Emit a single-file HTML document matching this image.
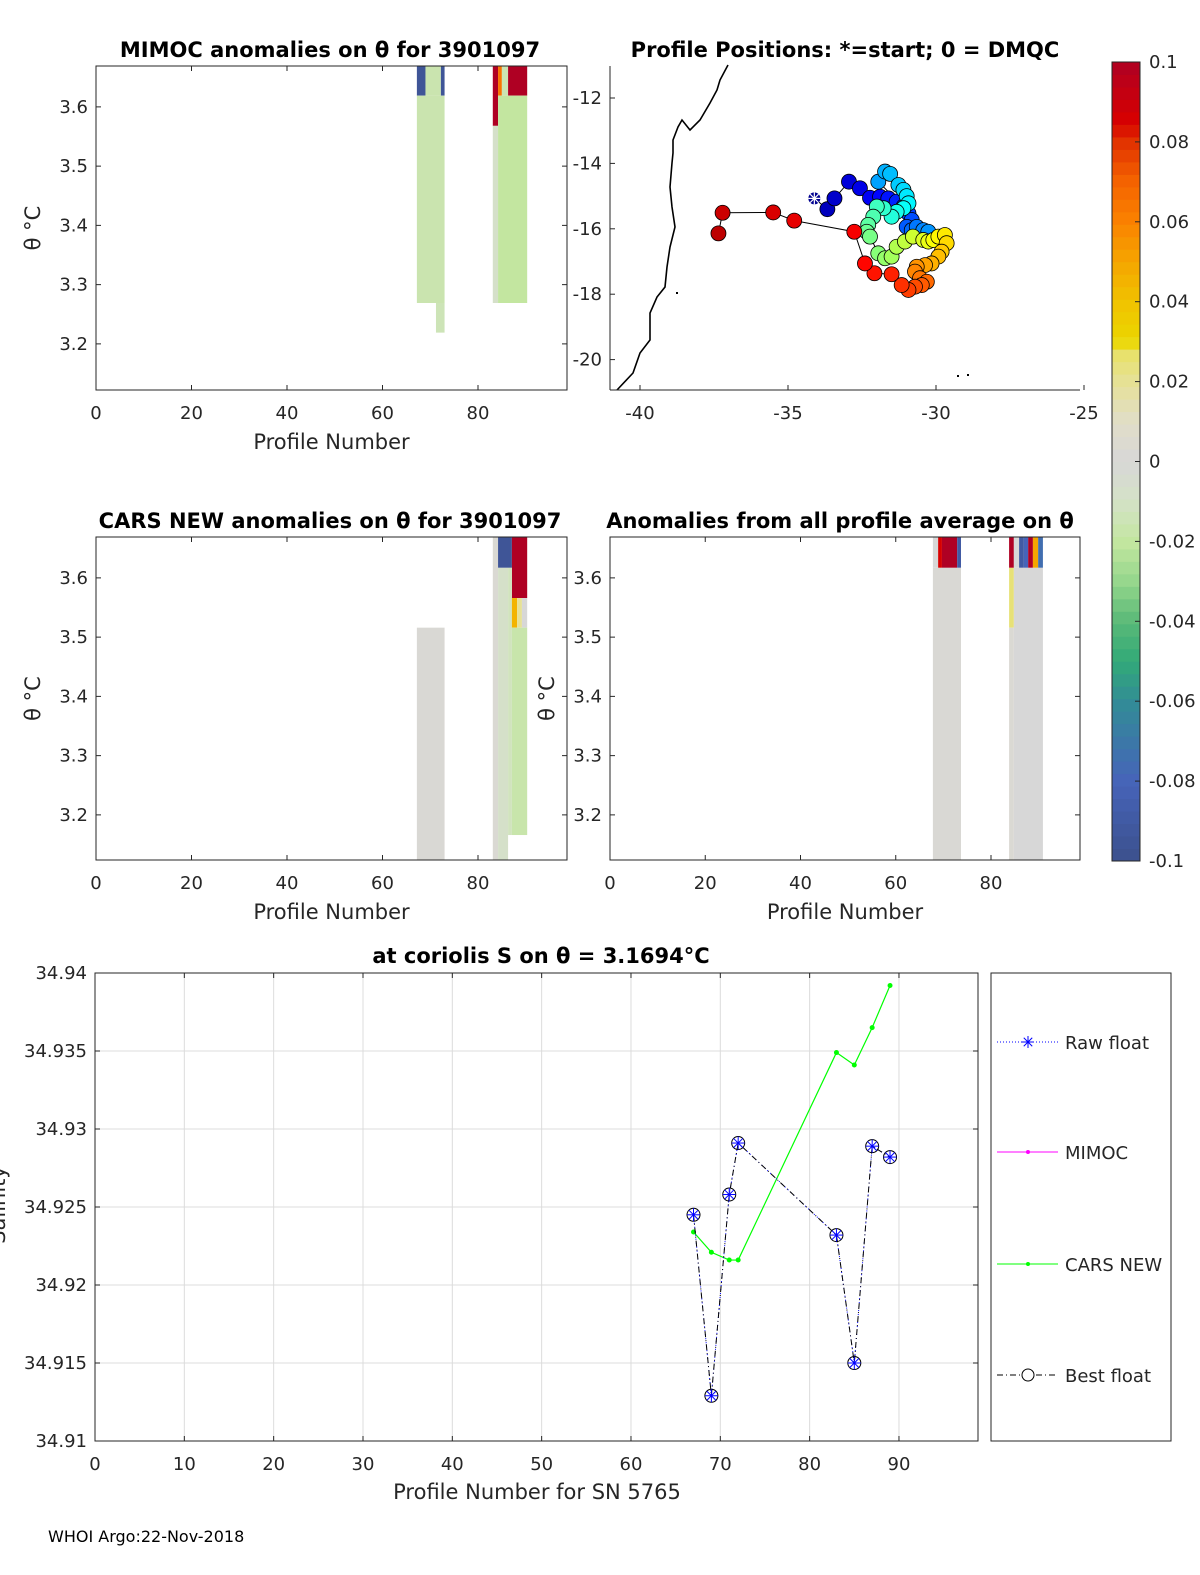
<!DOCTYPE html>
<html><head><meta charset="utf-8"><style>
html,body{margin:0;padding:0;background:#fff;}
svg{display:block;font-family:"DejaVu Sans","Liberation Sans",sans-serif;}
.t{font-size:18px;fill:#262626}
.ttl{font-size:21px;font-weight:bold;fill:#000}
.lab{font-size:21px;fill:#262626}
</style></head><body>
<svg id="fig" width="1200" height="1575" viewBox="0 0 1200 1575" xmlns="http://www.w3.org/2000/svg">
<g id="g1"></g>
<g id="g2"></g>
<g id="g3"></g>
<g id="g4"></g>
<g id="gcb"></g>
<g id="g5"></g>
<text x="48" y="1542" font-size="16" fill="#000">WHOI Argo:22-Nov-2018</text>
</svg>
<script>
// ---------- data ----------
const cellPanel=[0,0,0,0,0, 0,0,0,0,0,0,
  1,1,1,1,1,1,1,1,1,1,
  2,2,2,2,2, 2,2,2,2,2,2,2,2,2,2];
const cellP0=[67.2,72.2,69,67.2,71.2, 83.1,84.2,85,86.3,83.1,84.2,
  67.2,83.1,84.2,87.1,84.2,86.3,87.1,88.2,89.2,87.1,
  67.8,68.9,69.7,72.9,67.8, 83.8,84.8,85.9,86.9,87.8,88.8,89.9,83.8,84.8,83.8];
const cellP1=[69,73,72.2,73,73, 84.2,85,86.3,90.3,84.2,90.3,
  73,84.2,87.1,90.3,86.3,87.1,88.2,89.2,90.3,90.3,
  68.9,69.7,72.9,73.7,73.7, 84.8,85.9,86.9,87.8,88.8,89.9,90.9,84.8,90.9,84.8];
const cellT0=[3.669,3.669,3.669,3.619,3.269, 3.669,3.669,3.669,3.669,3.568,3.619,
  3.516,3.669,3.669,3.669,3.617,3.617,3.566,3.566,3.566,3.516,
  3.669,3.669,3.669,3.669,3.617, 3.669,3.669,3.669,3.669,3.669,3.669,3.669,3.617,3.617,3.516];
const cellT1=[3.619,3.619,3.619,3.269,3.219, 3.568,3.619,3.619,3.619,3.269,3.269,
  3.124,3.124,3.617,3.566,3.124,3.166,3.516,3.516,3.516,3.166,
  3.617,3.617,3.617,3.617,3.124, 3.617,3.617,3.617,3.617,3.617,3.617,3.617,3.516,3.124,3.124];
const cellV=[-0.095,-0.095,-0.016,-0.016,-0.014, 0.1,0.065,-0.015,0.1,-0.008,-0.02,
  0.002,0.003,-0.095,0.1,-0.008,-0.012,0.045,0.02,0.0,-0.017,
  0.0,0.085,0.1,-0.09,0.002, 0.1,0.0,-0.09,-0.08,0.1,0.05,-0.075,0.025,0.0,0.003];
const thetaTicks=[3.2,3.3,3.4,3.5,3.6];
const profTicks=[0,20,40,60,80];
const lon=[-34.11,-33.67,-33.43,-32.94,-32.57,-32.23,-31.89,-31.61,-31.33,-31.10,-30.93,-30.82,-30.99,-30.82,-30.65,-30.43,-30.26,
 -31.95,-31.72,-31.55,-31.27,-31.10,-30.99,-30.93,-31.10,-31.33,-31.50,
 -31.77,-32.0,-32.12,-32.29,-32.34,-32.23,
 -31.95,-31.72,-31.50,-31.33,-31.05,-30.78,
 -30.43,-30.26,-30.09,-29.92,-29.70,-29.64,-29.81,-29.92,
 -30.15,-30.37,-30.65,-30.71,
 -30.54,-30.31,-30.48,-30.71,-30.93,-31.16,
 -31.50,-32.08,-32.40,-32.76,-34.79,-35.50,-37.21,-37.35];
const lat=[-15.07,-15.40,-15.07,-14.56,-14.76,-15.05,-15.02,-15.07,-15.17,-15.32,-15.53,-15.73,-15.94,-16.04,-15.94,-16.04,-16.09,
 -14.56,-14.25,-14.32,-14.66,-14.81,-15.0,-15.22,-15.37,-15.48,-15.63,
 -15.37,-15.32,-15.63,-15.88,-16.09,-16.24,
 -16.75,-16.90,-16.85,-16.55,-16.39,-16.24,
 -16.34,-16.39,-16.34,-16.24,-16.19,-16.44,-16.70,-16.85,
 -17.06,-17.11,-17.16,-17.31,
 -17.51,-17.62,-17.72,-17.77,-17.87,-17.72,
 -17.39,-17.36,-17.06,-16.09,-15.75,-15.50,-15.51,-16.14];
const lonTicks=[-40,-35,-30,-25];
const latTicks=[-12,-14,-16,-18,-20];
const profNum=[67,69,71,72,83,85,87,89];
const floatSal=[34.9245,34.9129,34.9258,34.9291,34.9232,34.9150,34.9289,34.9282];
const carsSal=[34.9234,34.9221,34.9216,34.9216,34.9349,34.9341,34.9365,34.9392];
const salTicks=[34.91,34.915,34.92,34.925,34.93,34.935,34.94];
const salXTicks=[0,10,20,30,40,50,60,70,80,90];
const cbTicks=[-0.1,-0.08,-0.06,-0.04,-0.02,0,0.02,0.04,0.06,0.08,0.1];
const cbLabels=['-0.1','-0.08','-0.06','-0.04','-0.02','0','0.02','0.04','0.06','0.08','0.1'];

// ---------- helpers ----------
const NS='http://www.w3.org/2000/svg';
function mk(parent,tag,attrs,text){const e=document.createElementNS(NS,tag);for(const k in attrs)e.setAttribute(k,attrs[k]);if(text!==undefined)e.textContent=text;parent.appendChild(e);return e;}
const cmS=[[-0.1,60,80,140],[-0.08,70,100,185],[-0.06,50,140,150],[-0.05,50,170,120],[-0.04,90,185,120],[-0.03,150,215,140],[-0.02,195,230,160],[-0.01,212,226,198],[0,215,215,215],[0.01,225,222,200],[0.02,230,225,150],[0.028,232,225,100],[0.03,235,215,0],[0.04,240,195,0],[0.05,245,165,0],[0.06,250,130,0],[0.07,245,100,0],[0.08,225,50,0],[0.085,215,0,0],[0.1,175,0,35]];
function cmap(v){v=Math.max(-0.1,Math.min(0.1,v));for(let i=0;i<cmS.length-1;i++){const a=cmS[i],b=cmS[i+1];if(v<=b[0]){const f=(v-a[0])/(b[0]-a[0]);return 'rgb('+[1,2,3].map(j=>Math.round(a[j]+f*(b[j]-a[j]))).join(',')+')';}}return 'rgb(175,0,35)';}
function jet(t){const r=Math.max(0,Math.min(1,1.5-Math.abs(4*t-3))),g=Math.max(0,Math.min(1,1.5-Math.abs(4*t-2))),b=Math.max(0,Math.min(1,1.5-Math.abs(4*t-1)));return 'rgb('+[r,g,b].map(c=>Math.round(c*255)).join(',')+')';}

// ---------- anomaly panels ----------
const panels=[
 {g:'g1',x0:96,x1:567,y0:66,y1:390,pxPer:4.775,title:'MIMOC anomalies on \u03B8  for 3901097',tx:330},
 {g:'g3',x0:96,x1:567,y0:537,y1:860,pxPer:4.775,title:'CARS NEW anomalies on \u03B8 for 3901097',tx:330},
 {g:'g4',x0:610,x1:1080,y0:537,y1:860,pxPer:4.7625,title:'Anomalies from all profile average on \u03B8',tx:840}
];
panels.forEach((P,pi)=>{
 const g=document.getElementById(P.g);
 const xs=p=>P.x0+p*P.pxPer;
 const ys=t=>P.y0+(3.669-t)*592.5;
 for(let i=0;i<cellV.length;i++){ if(cellPanel[i]!==pi)continue;
  const r=mk(g,'rect',{x:xs(cellP0[i]),y:ys(cellT0[i]),width:xs(cellP1[i])-xs(cellP0[i]),height:ys(cellT1[i])-ys(cellT0[i]),fill:cmap(cellV[i])});
  
  
 }
 const ax=mk(g,'rect',{x:P.x0,y:P.y0,width:P.x1-P.x0,height:P.y1-P.y0,fill:'none',stroke:'#262626','stroke-width':1});
 
 thetaTicks.forEach(t=>{const y=ys(t);if(y<P.y0||y>P.y1)return;
  mk(g,'line',{x1:P.x0,x2:P.x0+5,y1:y,y2:y,stroke:'#262626'});mk(g,'line',{x1:P.x1,x2:P.x1-5,y1:y,y2:y,stroke:'#262626'});
  const tl=mk(g,'text',{x:P.x0-8,y:y+6,'text-anchor':'end',class:'t'},t.toFixed(1));
  });
 profTicks.forEach(p=>{const x=xs(p);
  mk(g,'line',{x1:x,x2:x,y1:P.y1,y2:P.y1-5,stroke:'#262626'});mk(g,'line',{x1:x,x2:x,y1:P.y0,y2:P.y0+5,stroke:'#262626'});
  const tl=mk(g,'text',{x:x,y:P.y1+29,'text-anchor':'middle',class:'t'},String(p));
  });
 const xl=mk(g,'text',{x:(P.x0+P.x1)/2,y:P.y1+59,'text-anchor':'middle',class:'lab'},'Profile Number');
 
 const tt=mk(g,'text',{x:P.tx,y:P.y0-9,'text-anchor':'middle',class:'ttl'},P.title);
 
 const yl=mk(g,'text',{x:0,y:0,'text-anchor':'middle',class:'lab',transform:'translate('+(P.x0-56)+','+((P.y0+P.y1)/2)+') rotate(-90)'},'\u03B8 \u00B0C');
 
});

// ---------- map ----------
(function(){
 const g=document.getElementById('g2');
 const X0=610,X1=1080,Y0=66,Y1=390;
 const xs=l=>640+(l+40)*29.6, ys=l=>98-(l+12)*32.7;
 const coast=[[728,65],[720,80],[717,90],[710,103],[700,120],[690,130],[682,120],[678,127],[673,140],[673,153],[672,163],[670,187],[672,207],[675,227],[670,247],[667,267],[665,287],[657,297],[650,313],[650,340],[640,353],[633,373],[617,390]];
 const cl=mk(g,'polyline',{points:coast.map(p=>p.join(',')).join(' '),fill:'none',stroke:'#000','stroke-width':1.6});
 
 mk(g,'rect',{x:676,y:292,width:2,height:2,fill:'#000'});mk(g,'rect',{x:957,y:375,width:2,height:2,fill:'#000'});mk(g,'rect',{x:967,y:374,width:2,height:2,fill:'#000'});
 const tr=mk(g,'polyline',{points:lon.map((l,i)=>xs(l)+','+ys(lat[i])).join(' '),fill:'none',stroke:'#000','stroke-width':1});
 
 for(let i=1;i<lon.length;i++){
  const c=mk(g,'circle',{cx:xs(lon[i]),cy:ys(lat[i]),r:7.5,fill:jet(0.06+0.88*(i-1)/(lon.length-2)),stroke:'#000','stroke-width':0.8});
  
 }
 const sx=xs(lon[0]),sy=ys(lat[0]);
 const st=mk(g,'g',{});
 mk(st,'circle',{cx:sx,cy:sy,r:6,fill:'#00008f'});
 for(let a=0;a<4;a++){const an=a*Math.PI/4;mk(st,'line',{x1:sx-6*Math.cos(an),y1:sy-6*Math.sin(an),x2:sx+6*Math.cos(an),y2:sy+6*Math.sin(an),stroke:'#fff','stroke-width':1.2});}
 mk(g,'line',{x1:X0,x2:X0,y1:Y0,y2:Y1,stroke:'#262626'});mk(g,'line',{x1:X0,x2:X1,y1:Y1,y2:Y1,stroke:'#262626'});
 lonTicks.forEach(l=>{const x=xs(l);mk(g,'line',{x1:x,x2:x,y1:Y1,y2:Y1-5,stroke:'#262626'});
  const t=mk(g,'text',{x:x,y:Y1+29,'text-anchor':'middle',class:'t'},String(l));});
 latTicks.forEach(l=>{const y=ys(l);mk(g,'line',{x1:X0,x2:X0+5,y1:y,y2:y,stroke:'#262626'});
  const t=mk(g,'text',{x:X0-8,y:y+6,'text-anchor':'end',class:'t'},String(l));});
 const tt=mk(g,'text',{x:845,y:57,'text-anchor':'middle',class:'ttl'},'Profile Positions: *=start; 0 = DMQC');
 
})();

// ---------- colorbar ----------
(function(){
 const g=document.getElementById('gcb');
 const X=1112,W=28,Y0=62,Y1=861;
 const ys=v=>Y1-(v+0.1)/0.2*(Y1-Y0);
 const n=64;
 for(let i=0;i<n;i++){const v0=-0.1+0.2*i/n,v1=-0.1+0.2*(i+1)/n;
  mk(g,'rect',{x:X,y:ys(v1),width:W,height:ys(v0)-ys(v1)+0.5,fill:cmap((v0+v1)/2)});}
 mk(g,'rect',{x:X,y:Y0,width:W,height:Y1-Y0,fill:'none',stroke:'#262626'});
 cbTicks.forEach((v,i)=>{const y=ys(v);mk(g,'line',{x1:X+W-5,x2:X+W,y1:y,y2:y,stroke:'#262626'});
  const t=mk(g,'text',{x:X+W+9,y:y+6,class:'t'},cbLabels[i]);});
})();

// ---------- salinity chart ----------
(function(){
 const g=document.getElementById('g5');
 const X0=95,X1=978,Y0=973,Y1=1441;
 const xs=p=>X0+p*8.933, ys=s=>Y1-(s-34.91)*15600;
 salXTicks.forEach(p=>{const x=xs(p);mk(g,'line',{x1:x,x2:x,y1:Y0,y2:Y1,stroke:'#dcdcdc'});});
 salTicks.forEach(s=>{const y=ys(s);mk(g,'line',{x1:X0,x2:X1,y1:y,y2:y,stroke:'#dcdcdc'});});
 mk(g,'rect',{x:X0,y:Y0,width:X1-X0,height:Y1-Y0,fill:'none',stroke:'#262626'});
 salXTicks.forEach(p=>{const x=xs(p);mk(g,'line',{x1:x,x2:x,y1:Y1,y2:Y1-5,stroke:'#262626'});mk(g,'line',{x1:x,x2:x,y1:Y0,y2:Y0+5,stroke:'#262626'});
  const t=mk(g,'text',{x:x,y:Y1+29,'text-anchor':'middle',class:'t'},String(p));});
 salTicks.forEach(s=>{const y=ys(s);mk(g,'line',{x1:X0,x2:X0+5,y1:y,y2:y,stroke:'#262626'});mk(g,'line',{x1:X1,x2:X1-5,y1:y,y2:y,stroke:'#262626'});
  const t=mk(g,'text',{x:X0-8,y:y+6,'text-anchor':'end',class:'t'},String(s));});
 const xl=mk(g,'text',{x:537,y:1499,'text-anchor':'middle',class:'lab'},'Profile Number for SN 5765');
 const yl=mk(g,'text',{x:0,y:0,'text-anchor':'middle',class:'lab',transform:'translate(5,1205) rotate(-90)'},'Salinity');
 const tt=mk(g,'text',{x:541,y:963,'text-anchor':'middle',class:'ttl'},'at coriolis S on \u03B8 = 3.1694\u00B0C');
 const cars=mk(g,'polyline',{points:profNum.map((p,i)=>xs(p)+','+ys(carsSal[i])).join(' '),fill:'none',stroke:'#00ff00','stroke-width':1.2});
 
 profNum.forEach((p,i)=>{const c=mk(g,'circle',{cx:xs(p),cy:ys(carsSal[i]),r:2.5,fill:'#00ff00'});});
 const pts=profNum.map((p,i)=>xs(p)+','+ys(floatSal[i])).join(' ');
 const raw=mk(g,'polyline',{points:pts,fill:'none',stroke:'#0000ff','stroke-width':1,'stroke-dasharray':'1,3'});
 const best=mk(g,'polyline',{points:pts,fill:'none',stroke:'#000','stroke-width':1,'stroke-dasharray':'6,3,1,3'});
 profNum.forEach((p,i)=>{const x=xs(p),y=ys(floatSal[i]);
  const m=mk(g,'g',{});
  mk(m,'circle',{cx:x,cy:y,r:6.5,fill:'none',stroke:'#000','stroke-width':1});
  for(let a=0;a<4;a++){const an=a*Math.PI/4;mk(m,'line',{x1:x-6.5*Math.cos(an),y1:y-6.5*Math.sin(an),x2:x+6.5*Math.cos(an),y2:y+6.5*Math.sin(an),stroke:'#0000ff','stroke-width':1});}
 });
 const lg=mk(g,'g',{});
 mk(lg,'rect',{x:991,y:973,width:180,height:468,fill:'#fff',stroke:'#262626'});
 const items=[['Raw float',1042,'raw'],['MIMOC',1152,'mimoc'],['CARS NEW',1264,'cars'],['Best float',1375,'best']];
 items.forEach(it=>{const y=it[1];const e=mk(lg,'g',{});
  if(it[2]==='raw'){mk(e,'line',{x1:997,x2:1058,y1:y,y2:y,stroke:'#0000ff','stroke-dasharray':'1,2'});for(let a=0;a<4;a++){const an=a*Math.PI/4;mk(e,'line',{x1:1028-6*Math.cos(an),y1:y-6*Math.sin(an),x2:1028+6*Math.cos(an),y2:y+6*Math.sin(an),stroke:'#0000ff'});}}
  if(it[2]==='mimoc'){mk(e,'line',{x1:997,x2:1058,y1:y,y2:y,stroke:'#ff00ff'});mk(e,'circle',{cx:1028,cy:y,r:2,fill:'#ff00ff'});}
  if(it[2]==='cars'){mk(e,'line',{x1:997,x2:1058,y1:y,y2:y,stroke:'#00ff00'});mk(e,'circle',{cx:1028,cy:y,r:2,fill:'#00ff00'});}
  if(it[2]==='best'){mk(e,'line',{x1:997,x2:1058,y1:y,y2:y,stroke:'#000','stroke-dasharray':'6,3,1,3'});mk(e,'circle',{cx:1028,cy:y,r:6,fill:'#fff',stroke:'#000'});}
  mk(e,'text',{x:1065,y:y+7,class:'t',fill:'#000'},it[0]);});
})();
</script>
</body></html>
